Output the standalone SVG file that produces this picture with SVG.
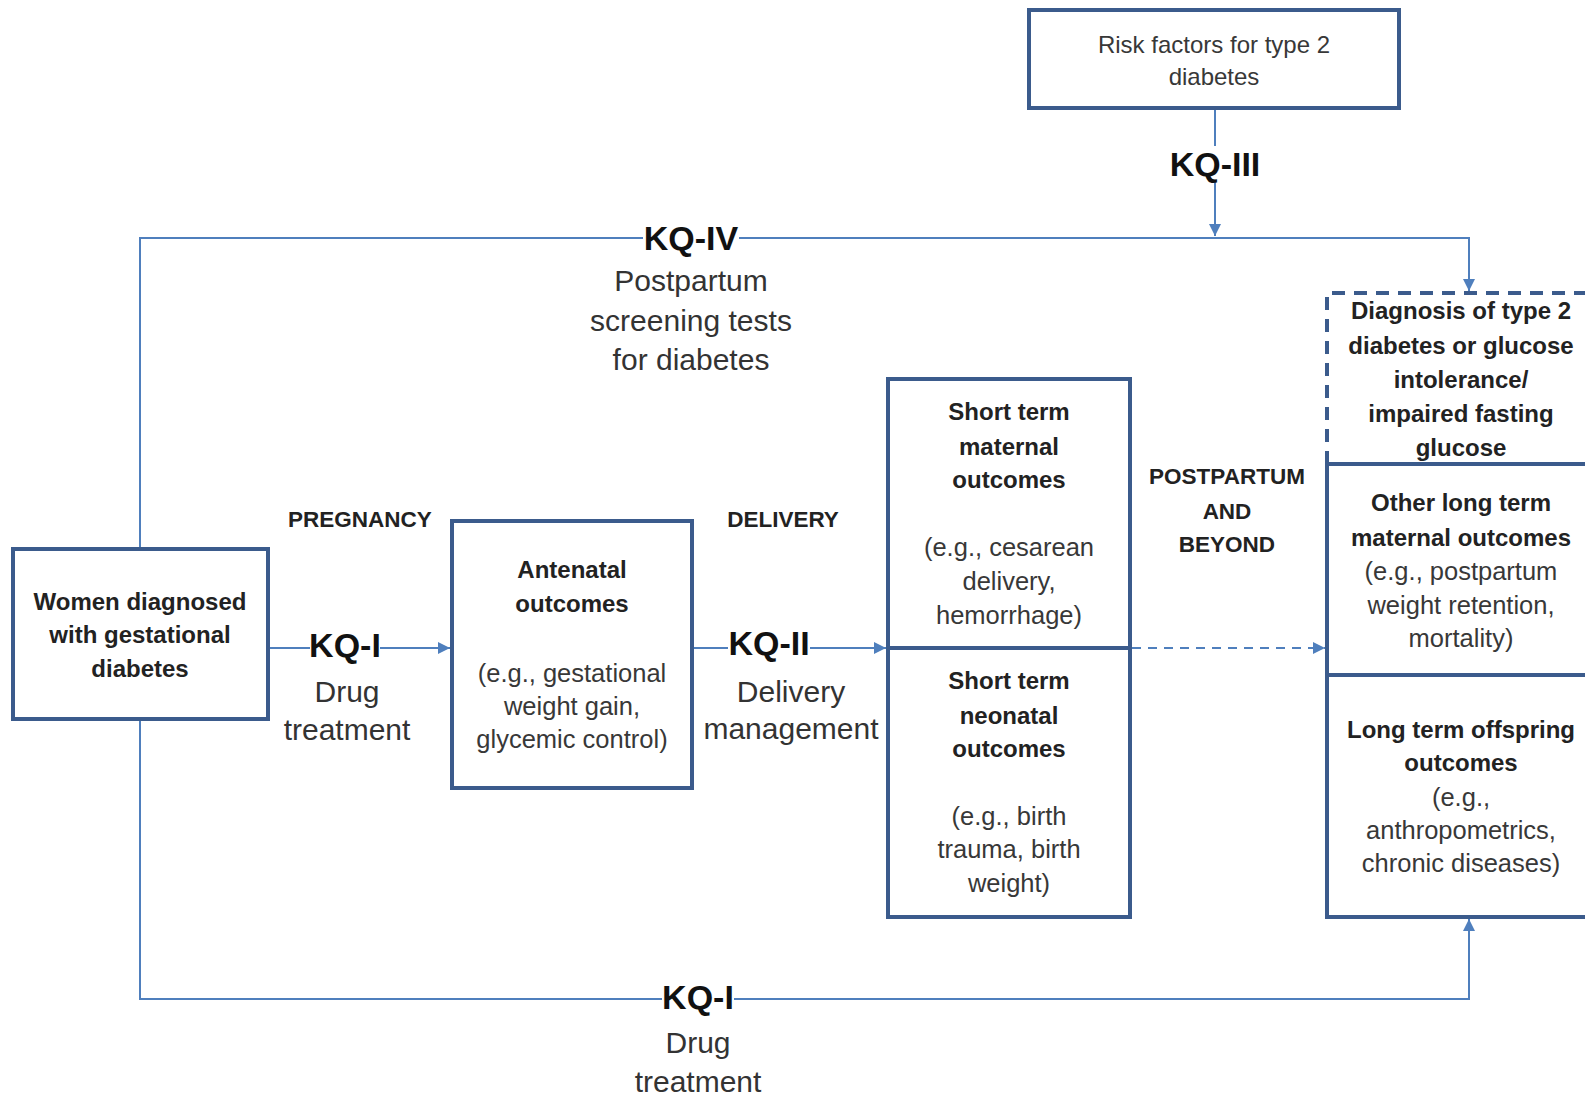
<svg xmlns="http://www.w3.org/2000/svg" width="1585" height="1097" viewBox="0 0 1585 1097">
  <style>
    .box { fill: #ffffff; stroke: #3b5b8c; stroke-width: 4; }
    .dash { fill: none; stroke: #3b5b8c; stroke-width: 4; stroke-dasharray: 13 9; }
    .edge { fill: none; stroke: #4f7fbd; stroke-width: 2; }
    .edge-dash { fill: none; stroke: #4f7fbd; stroke-width: 2; stroke-dasharray: 9 7; }
    .gap { fill: #ffffff; }
    text { font-family: "Liberation Sans", Arial, sans-serif; text-anchor: middle; }
    .b { font-weight: bold; font-size: 24px; fill: #222222; }
    .r { font-size: 25.5px; fill: #383838; }
    .kq { font-weight: bold; font-size: 34px; fill: #111111; }
    .lbl { font-size: 30px; fill: #333333; }
    .phase { font-weight: bold; font-size: 22.5px; fill: #222222; }
  </style>
  <defs>
    <marker id="arr" viewBox="0 0 10 10" refX="10" refY="5" markerWidth="6" markerHeight="6" orient="auto" markerUnits="strokeWidth">
      <path d="M0,0 L10,5 L0,10 z" fill="#4f7fbd"/>
    </marker>
  </defs>

  <!-- connectors -->
  <g id="connectors">
    <!-- KQ-IV: women -> diagnosis (top loop) -->
    <path class="edge" d="M140,549 V238 H1469 V291" marker-end="url(#arr)"/>
    <!-- KQ-III: risk factors -> top line -->
    <path class="edge" d="M1215,108 V236" marker-end="url(#arr)"/>
    <!-- KQ-I: women -> antenatal -->
    <path class="edge" d="M268,648 H450" marker-end="url(#arr)"/>
    <!-- KQ-II: antenatal -> short term -->
    <path class="edge" d="M692,648 H886" marker-end="url(#arr)"/>
    <!-- short term -> long term (dashed) -->
    <path class="edge-dash" d="M1132,648 H1325" marker-end="url(#arr)"/>
    <!-- KQ-I: women -> long term offspring (bottom loop) -->
    <path class="edge" d="M140,719 V999 H1469 V919" marker-end="url(#arr)"/>

    <!-- label gaps on the lines -->
    <rect class="gap" x="643" y="232" width="96" height="12"/>
    <rect class="gap" x="1168" y="146" width="94" height="34"/>
    <rect class="gap" x="310" y="642" width="70" height="12"/>
    <rect class="gap" x="728" y="642" width="82" height="12"/>
    <rect class="gap" x="662" y="993" width="72" height="12"/>

    <text class="kq" x="691" y="250">KQ-IV</text>
    <text class="lbl" x="691" y="291">Postpartum</text>
    <text class="lbl" x="691" y="331">screening tests</text>
    <text class="lbl" x="691" y="370">for diabetes</text>

    <text class="kq" x="1215" y="176">KQ-III</text>

    <text class="kq" x="345" y="657">KQ-I</text>
    <text class="lbl" x="347" y="702">Drug</text>
    <text class="lbl" x="347" y="740">treatment</text>

    <text class="kq" x="769" y="655">KQ-II</text>
    <text class="lbl" x="791" y="702">Delivery</text>
    <text class="lbl" x="791" y="739">management</text>

    <text class="kq" x="698" y="1009">KQ-I</text>
    <text class="lbl" x="698" y="1053">Drug</text>
    <text class="lbl" x="698" y="1092">treatment</text>
  </g>

  <!-- phase headings -->
  <g id="phases">
    <text class="phase" x="360" y="527">PREGNANCY</text>
    <text class="phase" x="783" y="527">DELIVERY</text>
    <text class="phase" x="1227" y="484">POSTPARTUM</text>
    <text class="phase" x="1227" y="519">AND</text>
    <text class="phase" x="1227" y="552">BEYOND</text>
  </g>

  <g id="risk-factors">
    <rect class="box" x="1029" y="10" width="370" height="98"/>
    <text class="r" x="1214" y="53" style="font-size:24px">Risk factors for type 2</text>
    <text class="r" x="1214" y="85" style="font-size:24px">diabetes</text>
  </g>

  <g id="women-gdm">
    <rect class="box" x="13" y="549" width="255" height="170"/>
    <text class="b" x="140" y="610">Women diagnosed</text>
    <text class="b" x="140" y="643">with gestational</text>
    <text class="b" x="140" y="677">diabetes</text>
  </g>

  <g id="antenatal">
    <rect class="box" x="452" y="521" width="240" height="267"/>
    <text class="b" x="572" y="578">Antenatal</text>
    <text class="b" x="572" y="612">outcomes</text>
    <text class="r" x="572" y="682">(e.g., gestational</text>
    <text class="r" x="572" y="715">weight gain,</text>
    <text class="r" x="572" y="748">glycemic control)</text>
  </g>

  <g id="short-term">
    <rect class="box" x="888" y="379" width="242" height="538"/>
    <line x1="888" y1="648" x2="1130" y2="648" stroke="#3b5b8c" stroke-width="4"/>
    <text class="b" x="1009" y="420">Short term</text>
    <text class="b" x="1009" y="455">maternal</text>
    <text class="b" x="1009" y="488">outcomes</text>
    <text class="r" x="1009" y="556">(e.g., cesarean</text>
    <text class="r" x="1009" y="590">delivery,</text>
    <text class="r" x="1009" y="624">hemorrhage)</text>
    <text class="b" x="1009" y="689">Short term</text>
    <text class="b" x="1009" y="724">neonatal</text>
    <text class="b" x="1009" y="757">outcomes</text>
    <text class="r" x="1009" y="825">(e.g., birth</text>
    <text class="r" x="1009" y="858">trauma, birth</text>
    <text class="r" x="1009" y="892">weight)</text>
  </g>

  <g id="diagnosis">
    <path class="dash" d="M1327,464 V293 H1600"/>
    <text class="b" x="1461" y="319">Diagnosis of type 2</text>
    <text class="b" x="1461" y="354">diabetes or glucose</text>
    <text class="b" x="1461" y="388">intolerance/</text>
    <text class="b" x="1461" y="422">impaired fasting</text>
    <text class="b" x="1461" y="456">glucose</text>
  </g>

  <g id="long-term">
    <rect class="box" x="1327" y="464" width="280" height="453" fill="none"/>
    <line x1="1327" y1="675" x2="1600" y2="675" stroke="#3b5b8c" stroke-width="4"/>
    <text class="b" x="1461" y="511">Other long term</text>
    <text class="b" x="1461" y="546">maternal outcomes</text>
    <text class="r" x="1461" y="580">(e.g., postpartum</text>
    <text class="r" x="1461" y="614">weight retention,</text>
    <text class="r" x="1461" y="647">mortality)</text>
    <text class="b" x="1461" y="738">Long term offspring</text>
    <text class="b" x="1461" y="771">outcomes</text>
    <text class="r" x="1461" y="806">(e.g.,</text>
    <text class="r" x="1461" y="839">anthropometrics,</text>
    <text class="r" x="1461" y="872">chronic diseases)</text>
  </g>
</svg>
